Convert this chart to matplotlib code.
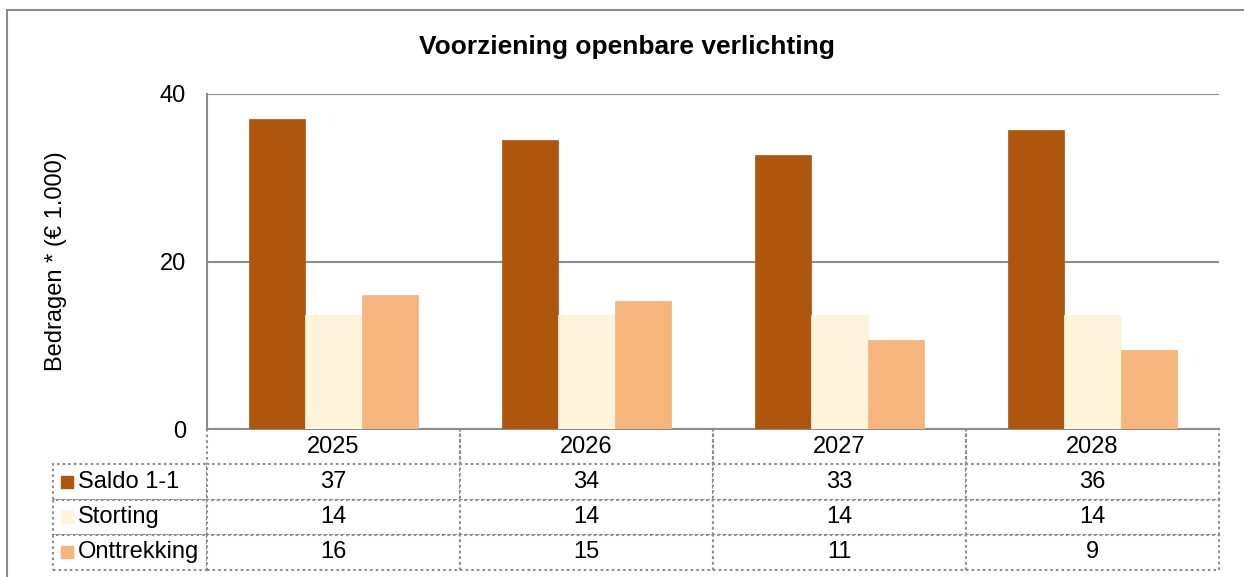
import matplotlib
matplotlib.use('Agg')
import matplotlib.pyplot as plt
from matplotlib.patches import Rectangle
import numpy as np

plt.rcParams['font.family'] = ['Liberation Sans', 'DejaVu Sans']

# data
years = ['2025', '2026', '2027', '2028']
series = ['Saldo 1-1', 'Storting', 'Onttrekking']
saldo = [37.0, 34.5, 32.7, 35.7]
storting = [13.6, 13.6, 13.6, 13.6]
onttrekking = [16.0, 15.3, 10.6, 9.4]
colors = ['#AE560E', '#FEF4DB', '#F5B57D']

values = [saldo, storting, onttrekking]
grid_col = '#8C8C8C'

fig = plt.figure(figsize=(12.44, 5.77), dpi=100)
ax = fig.add_axes([207 / 1244, 1 - 429 / 577, 1012 / 1244, 335 / 577])

# outer frame of the chart area
fig.patches.append(Rectangle((7 / 1244, -0.1), 1.2, 1.1 - 10 / 577,
                             transform=fig.transFigure, fill=False,
                             edgecolor=grid_col, linewidth=1.5))

x = np.arange(len(years))
w = 0.222
for i, (vals, col) in enumerate(zip(values, colors)):
    ax.bar(x + (i - 1) * w, vals, width=w, color=col, edgecolor=col,
           linewidth=0.5, zorder=3)

ax.set_xlim(-0.5, 3.5)
ax.set_ylim(0, 40)
ax.set_yticks([0, 20, 40])
ax.set_xticks([])
ax.tick_params(axis='y', length=0, pad=15, labelsize=17)
ax.yaxis.grid(True, color=grid_col, linewidth=1.5, zorder=0)
for s in ['top', 'right']:
    ax.spines[s].set_visible(False)
ax.spines['left'].set_color(grid_col)
ax.spines['left'].set_linewidth(1.5)
ax.spines['bottom'].set_color(grid_col)
ax.spines['bottom'].set_linewidth(1.5)
ax.set_ylabel('Bedragen * (€ 1.000)', fontsize=17)
ax.yaxis.set_label_coords(-0.138, 0.5)

ax.set_title('Voorziening openbare verlichting', fontsize=19,
             fontweight='bold', pad=29, x=0.415)

# data table below the chart
label_w = 154 / 1012
tab_h = 141 / 335
cell_text = [[s] + [f'{v:.0f}' for v in vals] for s, vals in zip(series, values)]
tab = ax.table(cellText=cell_text, colLabels=[''] + years,
               colWidths=[label_w] + [0.25] * 4,
               cellLoc='center',
               bbox=[-label_w, -tab_h, 1 + label_w, tab_h])
tab.auto_set_font_size(False)
tab.set_fontsize(17)
for (r, c), cell in tab.get_celld().items():
    cell.set_edgecolor(grid_col)
    cell.set_linestyle((0, (1.2, 1.5)))
    cell.set_linewidth(1.5)
    if r == 0:
        cell.visible_edges = '' if c == 0 else 'LR'
    if c == 0 and r > 0:
        cell.PAD = 0.16
        cell._loc = 'left'
        cell.get_text().set_ha('left')

# colour keys in the row labels
row_h = tab_h / 4
sq_w = 12 / 1012
sq_h = 12 / 335
for i, col in enumerate(colors):
    yc = -(i + 1.5) * row_h
    ax.add_patch(Rectangle((-146 / 1012, yc - sq_h / 2), sq_w, sq_h,
                           transform=ax.transAxes, color=col,
                           clip_on=False, zorder=5))

fig.savefig('out.png', dpi=100)
